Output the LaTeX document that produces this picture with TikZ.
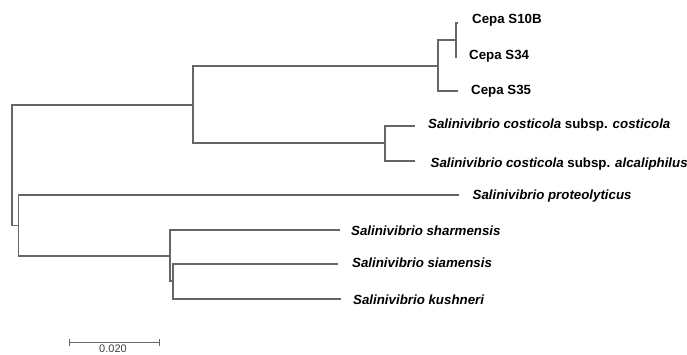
\documentclass[tikz,border=0pt]{standalone}
\usepackage{fontspec}
\setmainfont{Liberation Sans}
\usepackage{tikz}
\usetikzlibrary{positioning}

\tikzset{
	branch/.style={draw=black!60, line width=1.3pt},
	leaf/.style={anchor=west, inner sep=0pt, font=\fontsize{13.3}{15}\selectfont\bfseries},
	species/.style={leaf, font=\fontsize{13.3}{15}\selectfont\bfseries\itshape},
}

\begin{document}
\begin{tikzpicture}[x=1pt, y=-1pt]
		\useasboundingbox (0, 0) rectangle (687, 354);

		% inner nodes
		\coordinate (root) at (12, 165);
		\coordinate (cladeA) at (193, 105);
		\coordinate (cladeB) at (18.5, 225.7);
		\coordinate (cepa) at (438, 66);
		\coordinate (cepa2) at (456, 40);
		\coordinate (costi) at (385, 143);
		\coordinate (sharm) at (170, 256);
		\coordinate (siam) at (173, 281);

		% tips
		\coordinate (tipS10B) at (458, 23);
		\coordinate (tipS34) at (457, 57);
		\coordinate (tipS35) at (458, 91);
		\coordinate (tipCost) at (415, 126);
		\coordinate (tipAlca) at (415, 161);
		\coordinate (tipProt) at (459, 195);
		\coordinate (tipShar) at (340, 230);
		\coordinate (tipSiam) at (338, 264);
		\coordinate (tipKush) at (341, 299);

		% labels
		\node [leaf] (S10B) at (472, 20) {Cepa S10B};
		\node [leaf] (S34) at (469, 56) {Cepa S34};
		\node [leaf] (S35) at (471, 91) {Cepa S35};
		\node [species] (cost) at (428, 125) {Salinivibrio costicola \upshape subsp. \itshape costicola};
		\node [species] (alca) at (430.5, 164) {Salinivibrio costicola \upshape subsp. \itshape alcaliphilus};
		\node [species] (prot) at (472.5, 196) {Salinivibrio proteolyticus};
		\node [species] (shar) at (351, 231) {Salinivibrio sharmensis};
		\node [species] (siamL) at (352, 263) {Salinivibrio siamensis};
		\node [species] (kush) at (353, 300) {Salinivibrio kushneri};

		\draw [branch] (root) |- (cladeA);
		\draw [branch] (root) |- (cladeB);
		\draw [branch] (cladeA) |- (cepa);
		\draw [branch] (cladeA) |- (costi);
		\draw [branch] (cepa) |- (cepa2);
		\draw [branch] (cepa) |- (tipS35);
		\draw [branch] (cepa2) |- (tipS10B);
		\draw [branch] (cepa2) |- (tipS34);
		\draw [branch] (costi) |- (tipCost);
		\draw [branch] (costi) |- (tipAlca);
		\draw [branch] (cladeB) |- (tipProt);
		\draw [branch] (cladeB) |- (sharm);
		\draw [branch] (sharm) |- (tipShar);
		\draw [branch] (sharm) |- (siam);
		\draw [branch] (siam) |- (tipSiam);
		\draw [branch] (siam) |- (tipKush);

		% scale bar
		\coordinate (barL) at (69, 342);
		\coordinate (barR) at (159, 342);
		\node [font=\fontsize{11}{12}\selectfont, text=black!75, inner sep=0pt] (barText) at (113, 348.5) {0.020};
		\draw [branch, line width=1pt] (barL) -- (barR);
		\draw [branch, line width=1pt] ([yshift=-3.5pt]barL) -- ([yshift=3.5pt]barL);
		\draw [branch, line width=1pt] ([yshift=-3.5pt]barR) -- ([yshift=3.5pt]barR);
\end{tikzpicture}
\end{document}
